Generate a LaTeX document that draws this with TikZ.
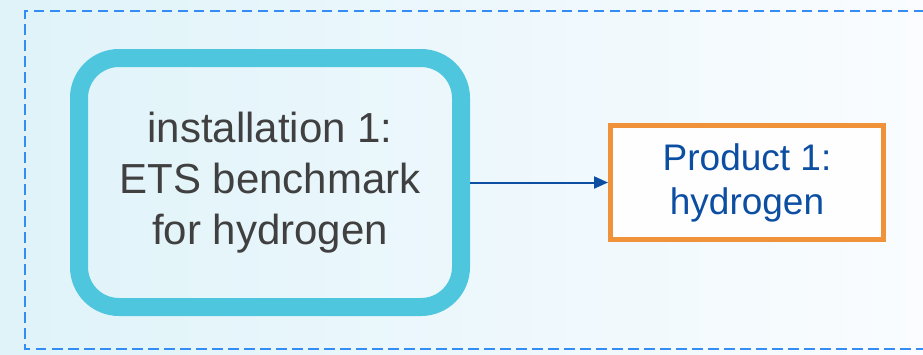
\documentclass[tikz,border=0pt]{standalone}
\usepackage{fontspec}
\setmainfont{Liberation Sans}
\usetikzlibrary{arrows.meta}
\begin{document}
\begin{tikzpicture}[x=1pt,y=-1pt]
        %colores
        \definecolor{fondoA}{RGB}{223,243,249}
        \definecolor{fondoB}{RGB}{250,252,255}
        \definecolor{cian}{RGB}{78,198,222}
        \definecolor{naranja}{RGB}{240,146,58}
        \definecolor{azul}{RGB}{11,78,162}
        \definecolor{guion}{RGB}{52,140,245}
        \definecolor{gris}{RGB}{64,64,64}
        \tikzset{
            instal/.style={draw=cian,line width=18pt,rounded corners=40pt,
                minimum width=382pt,minimum height=249pt,align=center,
                text=gris,font=\fontsize{42}{51}\selectfont},
            producto/.style={draw=naranja,line width=5pt,fill=white!70!fondoB,
                minimum width=273pt,minimum height=114pt,align=center,
                text=azul,font=\fontsize{37}{44}\selectfont},
            flujo/.style={azul,line width=2pt,-{Triangle[length=14pt,width=12pt]}}
        }
        % Fondo
        \shade[left color=fondoA,right color=fondoB] (0,0) rectangle (923,354);
        \useasboundingbox (0,0) rectangle (923,354);
        % Marco discontinuo
        \draw[guion,line width=2.5pt,dash pattern=on 10.5pt off 5.5pt]
            (940,11) -- (25,11) -- (25,349) -- (940,349);

        % Instalacion y producto
        \node[instal] (inst) at (270,182.5) {installation 1:\\ETS benchmark\\for hydrogen};
        \node[producto] (prod) at (747,182.5) {Product 1:\\hydrogen};
        \draw[flujo] (inst.east) -- (prod.west);
    \end{tikzpicture}
\end{document}
